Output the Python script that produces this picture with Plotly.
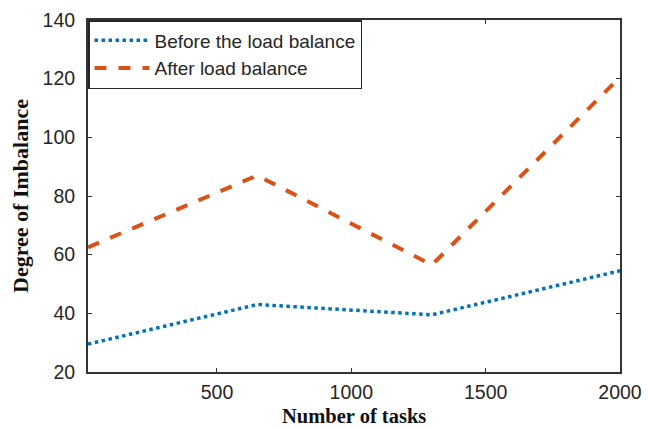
import plotly.graph_objects as go

tasks = [20, 650, 1300, 2000]
before_lb = [29.5, 43.0, 39.5, 54.5]
after_lb = [62.5, 87.0, 56.5, 120.5]
x_ticks = [500, 1000, 1500, 2000]
y_ticks = [20, 40, 60, 80, 100, 120, 140]

fig = go.Figure()
fig.add_trace(go.Scatter(x=tasks, y=before_lb, mode="lines", name="Before the load balance",
                         line=dict(color="#0072BD", width=3.5, dash="dot")))
fig.add_trace(go.Scatter(x=tasks, y=after_lb, mode="lines", name="After load balance",
                         line=dict(color="#D95319", width=4, dash="dash")))

axis_common = dict(showgrid=False, zeroline=False, showline=True, linecolor="#333",
                   linewidth=2, mirror="ticks", ticks="inside", ticklen=4,
                   tickcolor="#333", automargin=False,
                   tickfont=dict(family="Liberation Sans, Arial", size=19.5, color="#262626"))

title_font = dict(family="Liberation Serif, Times New Roman", size=22, color="#111")
fig.update_xaxes(range=[20, 2000], tickvals=x_ticks, ticklabelstandoff=2, **axis_common)
fig.update_yaxes(range=[20, 140], tickvals=y_ticks, ticklabelstandoff=7,
                 title=dict(text="<b>Degree of Imbalance</b>", standoff=8, font=title_font),
                 **axis_common)
fig.add_annotation(text="<b>Number of tasks</b>", xref="paper", yref="paper",
                   x=0.5, y=-0.16, xanchor="center", yanchor="bottom",
                   showarrow=False, borderpad=0,
                   font=dict(family="Liberation Serif, Times New Roman", size=20.5, color="#111"))
fig.update_layout(
    width=649, height=429,
    margin=dict(l=88, r=29, t=20, b=57),
    paper_bgcolor="white", plot_bgcolor="white",
    showlegend=True,
    legend=dict(x=0, y=1, xanchor="left", yanchor="top", bgcolor="white",
                bordercolor="#262626", borderwidth=1.5, tracegroupgap=0, itemwidth=55,
                font=dict(family="Liberation Sans, Arial", size=19, color="#262626")),
)
fig.write_html("out.html")
